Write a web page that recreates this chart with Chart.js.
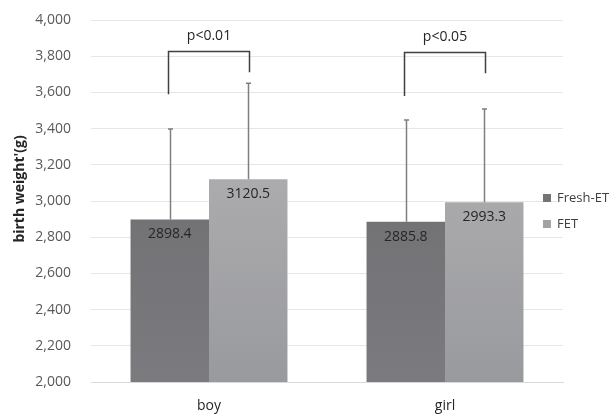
<!DOCTYPE html>
<html>
<head>
<meta charset="utf-8">
<script src="https://cdn.jsdelivr.net/npm/chart.js@4.4.1/dist/chart.umd.min.js"></script>
<style>
  html, body { margin: 0; padding: 0; background: #fff; }
  #wrap { width: 616px; height: 414px; }
</style>
</head>
<body>
<div id="wrap"><canvas id="c" width="616" height="414"></canvas></div>
<script>
// data
const groups = ['boy', 'girl'];
const seriesNames = ['Fresh-ET', 'FET'];
const freshMeans = [2898.4, 2885.8];
const fetMeans = [3120.5, 2993.3];
const freshSD = [500, 562];
const fetSD = [530, 515];

// significance brackets: top line, left leg end, right leg end
const pLabels = ['p<0.01', 'p<0.05'];
const bracketTop = [3830, 3822];
const bracketLeftEnd = [3590, 3580];
const bracketRightEnd = [3712, 3706];

const yTitle = "birth weight'(g)";
const FONT = "'Open Sans', 'Noto Sans', sans-serif";
const legendCols = ['#747477', '#a3a3a6'];

// soft vertical gradient like the original bars
function barFill(top, bottom) {
  return (ctx) => {
    const area = ctx.chart.chartArea;
    if (!area) return bottom;
    const g = ctx.chart.ctx.createLinearGradient(0, area.top + 150, 0, area.bottom);
    g.addColorStop(0, top);
    g.addColorStop(1, bottom);
    return g;
  };
}

const extrasPlugin = {
  id: 'extras',
  afterDatasetsDraw(chart) {
    const ctx = chart.ctx;
    const y = chart.scales.y;
    const area = chart.chartArea;
    const m0 = chart.getDatasetMeta(0);
    const m1 = chart.getDatasetMeta(1);

    // error bars (upper side only)
    ctx.save();
    ctx.strokeStyle = '#7f7f7f';
    ctx.lineWidth = 1.5;
    [[m0, freshMeans, freshSD], [m1, fetMeans, fetSD]].forEach(([meta, means, sds]) => {
      meta.data.forEach((bar, i) => {
        const x = Math.round(bar.x) + 0.5;
        const y0 = y.getPixelForValue(means[i]);
        const y1 = y.getPixelForValue(means[i] + sds[i]);
        ctx.beginPath();
        ctx.moveTo(x, y0);
        ctx.lineTo(x, y1);
        ctx.moveTo(x - 2.5, y1);
        ctx.lineTo(x + 2.5, y1);
        ctx.stroke();
      });
    });
    ctx.restore();

    // value labels inside bars
    ctx.save();
    ctx.fillStyle = '#262626';
    ctx.font = '14px ' + FONT;
    ctx.textAlign = 'center';
    ctx.textBaseline = 'middle';
    [[m0, freshMeans], [m1, fetMeans]].forEach(([meta, means]) => {
      meta.data.forEach((bar, i) => {
        ctx.fillText(means[i].toFixed(1), bar.x, bar.y + 15);
      });
    });
    ctx.restore();

    // brackets
    ctx.save();
    ctx.strokeStyle = '#404040';
    ctx.lineWidth = 1.5;
    ctx.fillStyle = '#262626';
    ctx.font = '14px ' + FONT;
    ctx.textAlign = 'center';
    ctx.textBaseline = 'middle';
    groups.forEach((g, i) => {
      const xl = Math.round(m0.data[i].x - 2) + 0.5;
      const xr = Math.round(m1.data[i].x + 1) + 0.5;
      const yt = Math.round(y.getPixelForValue(bracketTop[i])) + 0.5;
      ctx.beginPath();
      ctx.moveTo(xl, y.getPixelForValue(bracketLeftEnd[i]));
      ctx.lineTo(xl, yt);
      ctx.lineTo(xr, yt);
      ctx.lineTo(xr, y.getPixelForValue(bracketRightEnd[i]));
      ctx.stroke();
      ctx.fillText(pLabels[i], (xl + xr) / 2, yt - 15);
    });
    ctx.restore();

    // y axis title
    ctx.save();
    ctx.fillStyle = '#262626';
    ctx.font = 'bold 14px ' + FONT;
    ctx.textAlign = 'center';
    ctx.textBaseline = 'middle';
    ctx.translate(20, (area.top + area.bottom) / 2 - 12);
    ctx.rotate(-Math.PI / 2);
    ctx.fillText(yTitle, 0, 0);
    ctx.restore();

    // legend, sitting over the right end of the plot like the original
    ctx.save();
    ctx.font = '13px ' + FONT;
    ctx.textBaseline = 'middle';
    seriesNames.forEach((name, i) => {
      const cy = 198 + i * 26;
      ctx.fillStyle = '#ffffff';
      ctx.fillRect(area.right - 6, cy - 9, 60, 18);
      ctx.fillStyle = legendCols[i];
      ctx.fillRect(area.right - 20, cy - 4, 8, 8);
      ctx.fillStyle = '#404040';
      ctx.fillText(name, area.right - 6, cy);
    });
    ctx.restore();
  }
};

new Chart(document.getElementById('c'), {
  type: 'bar',
  data: {
    labels: groups,
    datasets: [
      { label: seriesNames[0], data: freshMeans, backgroundColor: barFill('#707073', '#7b7b7f'), borderWidth: 0 },
      { label: seriesNames[1], data: fetMeans, backgroundColor: barFill('#acacae', '#999a9e'), borderWidth: 0 }
    ]
  },
  options: {
    responsive: false,
    animation: false,
    layout: { padding: { top: 20, right: 53, left: 6, bottom: 0 } },
    datasets: { bar: { categoryPercentage: 0.665, barPercentage: 1.0 } },
    plugins: {
      tooltip: { enabled: false },
      legend: { display: false }
    },
    scales: {
      x: {
        grid: { display: false },
        border: { color: '#d9d9d9' },
        afterFit(scale) { scale.height = 32; scale.paddingLeft = 0; scale.paddingRight = 0; },
        ticks: { color: '#262626', font: { family: FONT, size: 14 }, padding: 8 }
      },
      y: {
        min: 2000, max: 4000,
        grid: { color: '#e6e6e6', drawTicks: false },
        border: { display: false },
        afterFit(scale) { scale.width = 85; scale.paddingTop = 0; scale.paddingBottom = 0; },
        ticks: {
          stepSize: 200, padding: 20,
          color: '#595959',
          font: { family: FONT, size: 14 },
          callback: (v) => v.toLocaleString('en-US')
        }
      }
    }
  },
  plugins: [extrasPlugin]
});
</script>
</body>
</html>
